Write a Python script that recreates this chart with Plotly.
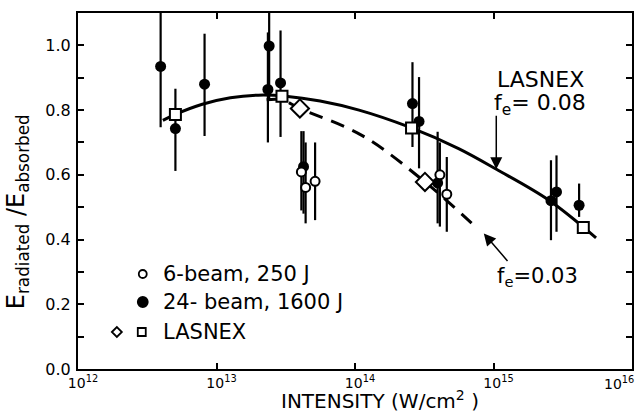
import plotly.graph_objects as go

# ---------------- data ----------------
# 24-beam, 1600 J (filled circles)
filled_I = [3.95e12, 5.05e12, 8.2e12, 2.4e13, 2.35e13, 2.9e13, 4.25e13,
            2.6e14, 2.9e14, 3.95e14, 2.6e15, 2.85e15, 4.15e15]
filled_E = [0.935, 0.743, 0.880, 0.998, 0.864, 0.884, 0.625,
            0.820, 0.765, 0.575, 0.520, 0.547, 0.506]
filled_hi = [1.15, 0.866, 1.036, 1.15, 1.040, 1.046, 0.735,
             0.948, 0.902, 0.733, 0.645, 0.660, 0.573]
filled_lo = [0.747, 0.612, 0.720, 0.830, 0.700, 0.717, 0.480,
             0.686, 0.620, 0.450, 0.398, 0.424, 0.470]

# 6-beam, 250 J (open circles)
open_I = [4.1e13, 4.4e13, 5.15e13, 2.7e14, 4.1e14, 4.6e14]
open_E = [0.609, 0.561, 0.580, 0.745, 0.600, 0.540]
open_hi = [0.735, 0.700, 0.700, 0.745, 0.700, 0.655]
open_lo = [0.490, 0.450, 0.460, 0.745, 0.440, 0.424]

# LASNEX points
square_I = [5.05e12, 2.97e13, 2.56e14, 4.45e15]
square_E = [0.786, 0.843, 0.745, 0.437]
diamond_I = [4.0e13, 3.2e14]
diamond_E = [0.805, 0.578]

# LASNEX curves
solid_I = [4.1e12, 5.0e12, 7.9e12, 1.26e13, 2.0e13, 3.16e13, 5.6e13,
           1.07e14, 2.45e14, 5.6e14, 1.05e15, 2.5e15, 5.5e15]
solid_E = [0.768, 0.786, 0.818, 0.838, 0.846, 0.843, 0.828,
           0.800, 0.748, 0.681, 0.617, 0.522, 0.405]
dashed_I = [2.3e13, 2.95e13, 4.0e13, 1.12e14, 3.2e14, 7.6e14]
dashed_E = [0.832, 0.832, 0.805, 0.722, 0.578, 0.435]

x_tickvals = [1e12, 1e13, 1e14, 1e15, 1e16]
x_ticktext = ["10<sup>12</sup>", "10<sup>13</sup>", "10<sup>14</sup>",
              "10<sup>15</sup>", "10<sup>16</sup>"]
y_tickvals = [0.0, 0.1, 0.2, 0.3, 0.4, 0.5, 0.6, 0.7, 0.8, 0.9, 1.0]
y_ticktext = ["0.0", "", "0.2", "", "0.4", "", "0.6", "", "0.8", "", "1.0"]

legend_labels = ["6-beam, 250 J", "24- beam, 1600 J", "LASNEX"]

FONT = "DejaVu Sans"
W, H = 639, 415
ML, MR, MT, MB = 78, 5, 13, 46
PW, PH = W - ML - MR, H - MT - MB


def px(xp):
    return (xp - ML) / PW


def py(yp):
    return (H - MB - yp) / PH


fig = go.Figure()

fig.add_trace(go.Scatter(x=solid_I, y=solid_E, mode="lines",
                         line=dict(color="black", width=3, shape="spline"),
                         hoverinfo="skip"))
fig.add_trace(go.Scatter(x=dashed_I, y=dashed_E, mode="lines",
                         line=dict(color="black", width=3, shape="spline",
                                   dash="14px,9px"),
                         hoverinfo="skip"))

fig.add_trace(go.Scatter(
    x=filled_I, y=filled_E, mode="markers",
    marker=dict(symbol="circle", size=11, color="black"),
    error_y=dict(type="data", symmetric=False,
                 array=[h - e for h, e in zip(filled_hi, filled_E)],
                 arrayminus=[e - l for e, l in zip(filled_E, filled_lo)],
                 color="black", thickness=2.2, width=0)))

fig.add_trace(go.Scatter(
    x=open_I, y=open_E, mode="markers",
    marker=dict(symbol="circle", size=9, color="white",
                line=dict(color="black", width=2)),
    error_y=dict(type="data", symmetric=False,
                 array=[h - e for h, e in zip(open_hi, open_E)],
                 arrayminus=[e - l for e, l in zip(open_E, open_lo)],
                 color="black", thickness=2.2, width=0)))

fig.add_trace(go.Scatter(
    x=square_I, y=square_E, mode="markers",
    marker=dict(symbol="square", size=11, color="white",
                line=dict(color="black", width=2))))
fig.add_trace(go.Scatter(
    x=diamond_I, y=diamond_E, mode="markers",
    marker=dict(symbol="diamond", size=14, color="white",
                line=dict(color="black", width=2))))

annotations = []
# curve labels
annotations.append(dict(xref="paper", yref="paper", x=px(542), y=py(80),
                        text="LASNEX", showarrow=False,
                        font=dict(family=FONT, size=22, color="black"),
                        xanchor="center", yanchor="middle"))
annotations.append(dict(xref="paper", yref="paper", x=px(542), y=py(105),
                        text="f<sub>e</sub>= 0.08", showarrow=False,
                        font=dict(family=FONT, size=22, color="black"),
                        xanchor="center", yanchor="middle"))
annotations.append(dict(xref="paper", yref="paper", x=px(539), y=py(277),
                        text="f<sub>e</sub>=0.03", showarrow=False,
                        font=dict(family=FONT, size=21, color="black"),
                        xanchor="center", yanchor="middle"))
# arrows
annotations.append(dict(x=15.02, y=0.617, xref="x", yref="y", text="",
                        showarrow=True, ax=0, ay=-55, arrowhead=2,
                        arrowsize=1.6, arrowwidth=1.5, arrowcolor="black"))
annotations.append(dict(x=14.93, y=0.419, xref="x", yref="y", text="",
                        showarrow=True, ax=25, ay=29, arrowhead=2,
                        arrowsize=1.6, arrowwidth=1.5, arrowcolor="black"))
# axis titles
annotations.append(dict(xref="paper", yref="paper", x=px(17), y=py(212),
                        text="E<sub>radiated</sub> /E<sub>absorbed</sub>",
                        textangle=-90, showarrow=False,
                        font=dict(family=FONT, size=24, color="black"),
                        xanchor="center", yanchor="middle"))
annotations.append(dict(xref="paper", yref="paper", x=px(381), y=0,
                        yshift=-(MB - 1), borderpad=0,
                        text="INTENSITY (W/cm<sup>2</sup> )", showarrow=False,
                        font=dict(family=FONT, size=20, color="black"),
                        xanchor="center", yanchor="bottom"))
# last x tick label kept inside the picture
annotations.append(dict(xref="paper", yref="paper", x=1, y=0, xshift=4,
                        yshift=-3, text=x_ticktext[-1], showarrow=False,
                        font=dict(family=FONT, size=14, color="black"),
                        xanchor="right", yanchor="top"))
# legend text
for lbl, yy in zip(legend_labels, [274, 302, 332]):
    annotations.append(dict(xref="paper", yref="paper", x=px(161), y=py(yy),
                            text=lbl, showarrow=False,
                            font=dict(family=FONT, size=21, color="black"),
                            xanchor="left", yanchor="middle"))

shapes = []
def circle(cx, cy, r, fill):
    return dict(type="circle", xref="paper", yref="paper",
                x0=px(cx - r), x1=px(cx + r), y0=py(cy + r), y1=py(cy - r),
                line=dict(color="black", width=1.8), fillcolor=fill)

shapes.append(circle(143, 274, 4, "white"))
shapes.append(circle(143, 302, 5, "black"))
shapes.append(dict(type="path", xref="paper", yref="paper",
                   path="M {a},{b} L {c},{d} L {e},{f} L {g},{h} Z".format(
                       a=px(112), b=py(332), c=px(117), d=py(327),
                       e=px(122), f=py(332), g=px(117), h=py(337)),
                   line=dict(color="black", width=1.8), fillcolor="white"))
shapes.append(dict(type="rect", xref="paper", yref="paper",
                   x0=px(138), x1=px(146), y0=py(336), y1=py(328),
                   line=dict(color="black", width=1.8), fillcolor="white"))

fig.update_layout(
    width=W, height=H,
    margin=dict(l=ML, r=MR, t=MT, b=MB),
    paper_bgcolor="white", plot_bgcolor="white",
    showlegend=False,
    font=dict(family=FONT, color="black"),
    annotations=annotations, shapes=shapes,
    xaxis=dict(type="log", range=[12, 16], tickvals=x_tickvals,
               ticktext=x_ticktext[:-1] + [""], ticks="inside", ticklen=6,
               tickwidth=1.5,
               tickcolor="black", showline=True, linewidth=2,
               linecolor="black", mirror="ticks", showgrid=False,
               zeroline=False, tickfont=dict(family=FONT, size=14),
               ticklabelshift=5, ticklabelstandoff=0),
    yaxis=dict(range=[0, 1.1], tickvals=y_tickvals, ticktext=y_ticktext,
               ticks="inside", ticklen=6, tickwidth=1.5, tickcolor="black",
               showline=True, linewidth=2, linecolor="black",
               mirror="ticks", showgrid=False, zeroline=False,
               tickfont=dict(family=FONT, size=16), ticklabelstandoff=2),
)

fig.write_html("out.html", config={"displayModeBar": False},
               post_script="document.body.style.margin='0';"
                           "document.body.style.padding='0';"
                           "document.body.style.overflow='hidden';")
